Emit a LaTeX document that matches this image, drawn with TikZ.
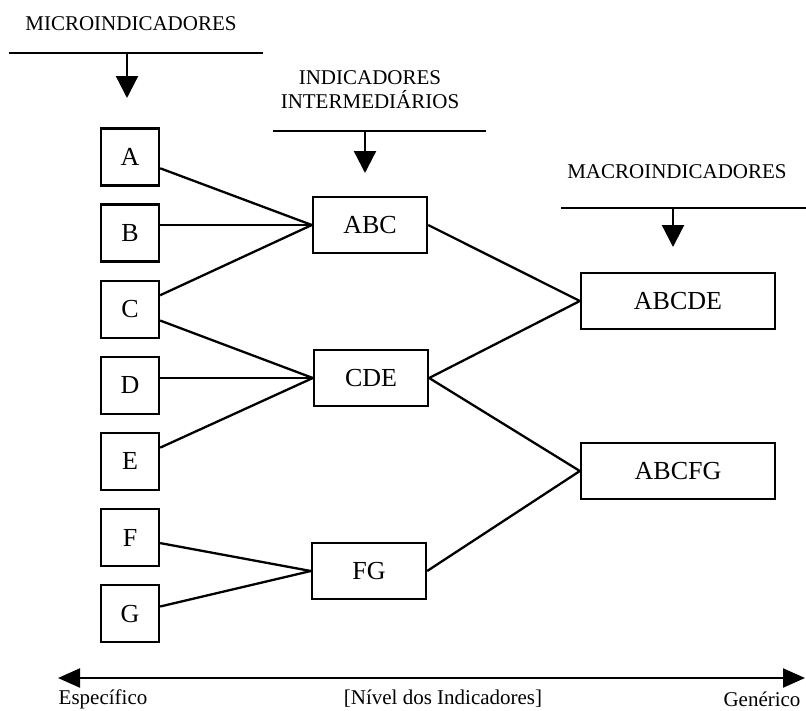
\documentclass[tikz,border=0pt]{standalone}
\usepackage{fontspec}
\setmainfont{Liberation Serif}
\usetikzlibrary{arrows.meta, positioning}

\begin{document}
\begin{tikzpicture}[x=1pt, y=-1pt, line width=2.3pt, node distance=16.8pt and 0pt,
	lab/.style={font=\fontsize{21}{24}\selectfont, align=center},
	small/.style={draw, font=\fontsize{26}{30}\selectfont, minimum width=58pt, minimum height=57pt, inner sep=0pt},
	mid/.style={draw, font=\fontsize{26}{30}\selectfont, minimum width=114pt, minimum height=56pt, inner sep=0pt},
	big/.style={draw, font=\fontsize{26}{30}\selectfont, minimum width=194pt, minimum height=56pt, inner sep=0pt},
	down/.style={-{Triangle[length=22pt,width=22pt]}}]
	\useasboundingbox (0,0) rectangle (806,710);
	% headers
	\node[lab] (micro) at (131,24) {MICROINDICADORES};
	\node[lab] (inter) at (370,90) {INDICADORES\\INTERMEDIÁRIOS};
	\node[lab] (macro) at (677,172) {MACROINDICADORES};
	\coordinate (microL) at (9,53);   \coordinate (microR) at (263,53);  \coordinate (microT) at (127,98);
	\coordinate (interL) at (273,131); \coordinate (interR) at (486,131); \coordinate (interT) at (365,173);
	\coordinate (macroL) at (561,208); \coordinate (macroR) at (806,208); \coordinate (macroT) at (673,247);
	\foreach \h in {micro, inter, macro} {
		\draw (\h L) -- (\h R);
		\draw[down] (\h T |- \h L) -- (\h T);
	}
	% microindicadores
	\node[small] (A) at (130,157) {A};
	\node[small, below =of A] (B) {B};
	\node[small, below =of B] (C) {C};
	\node[small, below =of C] (D) {D};
	\node[small, below =of D] (E) {E};
	\node[small, below =of E] (F) {F};
	\node[small, below =of F] (G) {G};
	% intermediarios
	\node[mid] (ABC) at (370,225) {ABC};
	\node[mid] (CDE) at (371,378) {CDE};
	\node[mid] (FG)  at (369,571) {FG};
	% macroindicadores
	\node[big] (ABCDE) at (678,301) {ABCDE};
	\node[big] (ABCFG) at (678,471) {ABCFG};
	\foreach \from/\to in {A/ABC, C/ABC, C/CDE, E/CDE, F/FG, G/FG}
		\draw (\from) -- (\to.west);
	\draw (B.east |- ABC.west) -- (ABC.west);
	\draw (D.east |- CDE.west) -- (CDE.west);
	\foreach \from/\to in {ABC/ABCDE, CDE/ABCDE, CDE/ABCFG, FG/ABCFG}
		\draw (\from.east) -- (\to.west);
	% eixo
	\coordinate (esq) at (58,678);
	\coordinate (dir) at (805,678);
	\draw[{Triangle[length=22pt,width=19pt]}-{Triangle[length=22pt,width=19pt]}] (esq) -- (dir);
	\node[lab] (espec) at (103,699) {Específico};
	\node[lab] (nivel) at (443,699) {[Nível dos Indicadores]};
	\node[lab] (gener) at (762,699) {Genérico};
\end{tikzpicture}
\end{document}
